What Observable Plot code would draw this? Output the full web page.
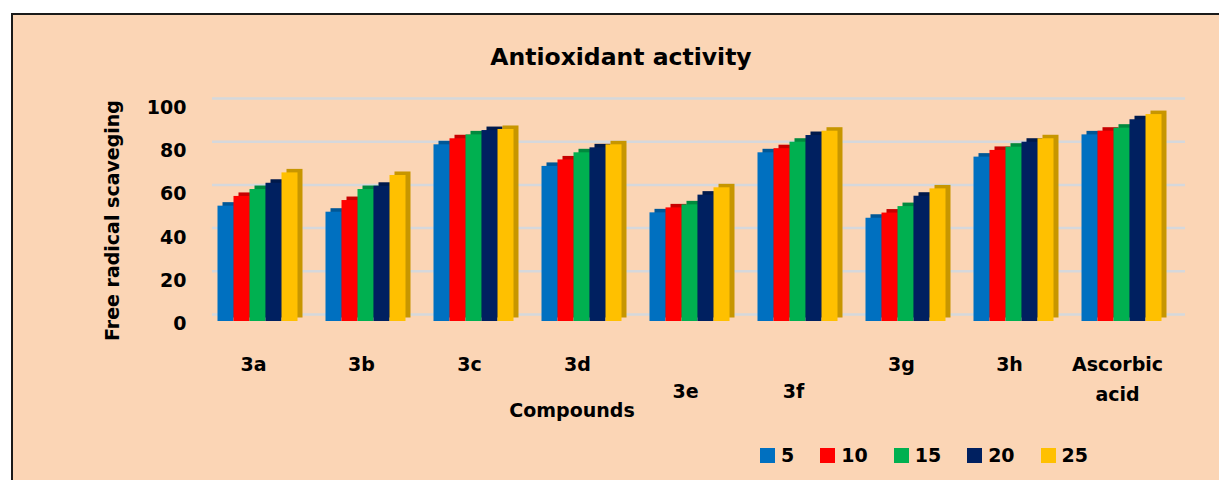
<!DOCTYPE html>
<html><head><meta charset="utf-8">
<script src="https://cdn.jsdelivr.net/npm/d3@7"></script>
<script src="https://cdn.jsdelivr.net/npm/@observablehq/plot@0.6"></script>
<style>
html,body{margin:0;padding:0;background:#fff;overflow:hidden;width:1219px;height:480px;}
#frame{position:absolute;left:11px;top:13px;width:1240px;height:500px;border:2px solid #1a1a1a;background:#FBD5B5;box-sizing:border-box;}
.layer{position:absolute;left:0;top:0;}
#legend{position:absolute;top:444px;left:760px;display:flex;align-items:center;font:bold 19px 'DejaVu Sans', sans-serif;color:#000;}
#legend .item{display:flex;align-items:center;margin-right:26px;}
#legend .sw{width:15px;height:15px;margin-right:6px;}
</style>
</head><body>
<div id="frame"></div>
<div id="bg" class="layer"></div>
<div id="fg" class="layer"></div>
<div id="legend"></div>
<script>
const title = "Antioxidant activity";
const yTitle = "Free radical scaveging";
const xTitle = "Compounds";
const compounds = ["3a","3b","3c","3d","3e","3f","3g","3h","Ascorbic acid"];
const xLabels = ["3a","3b","3c","3d","3e","3f","3g","3h","Ascorbic\nacid"];
const lowLabels = ["3e","3f"];
const seriesNames = ["5","10","15","20","25"];
const colors = ["#0070C0","#FF0000","#00B050","#002060","#FFC000"];
const yTicks = [0,20,40,60,80,100];
const s5  = [53.4, 50.6, 81.8, 71.8, 50.3, 78.1, 47.8, 76.1, 86.4];
const s10 = [57.9, 56.0, 84.6, 74.8, 52.6, 80.0, 50.2, 79.2, 88.1];
const s15 = [61.1, 61.1, 86.4, 78.1, 54.0, 83.0, 53.2, 80.7, 89.5];
const s20 = [64.0, 62.6, 88.4, 80.4, 58.5, 86.1, 58.0, 83.0, 93.4];
const s25 = [68.8, 67.6, 88.9, 81.8, 61.9, 88.1, 61.4, 84.6, 95.8];
const seriesValues = [s5, s10, s15, s20, s25];

const rows = [];
compounds.forEach((c, i) => seriesNames.forEach((s, j) => rows.push({compound: c, series: s, value: seriesValues[j][i]})));

const font = "'DejaVu Sans', sans-serif";
const bold = {fontWeight: "bold", fill: "#000", fontSize: 19, lineAnchor: "middle"};

const bg = Plot.plot({
  width: 1219, height: 480,
  marginTop: 98, marginBottom: 166, marginLeft: 212, marginRight: 34,
  style: {background: "transparent", fontFamily: font},
  y: {domain: [0, 100], axis: null},
  marks: [
    Plot.ruleY(yTicks, {stroke: "#D5D8DC", strokeWidth: 2.5}),
    Plot.text(yTicks, {y: d => d, text: d => String(d), frameAnchor: "left", textAnchor: "end", dx: -26, dy: 9.5, ...bold}),
    Plot.text([yTitle], {frameAnchor: "left", textAnchor: "middle", rotate: -90, dx: -100, dy: 14, ...bold}),
    Plot.text([xTitle], {frameAnchor: "bottom", textAnchor: "middle", dx: -127, dy: 96, ...bold}),
    Plot.text([title], {frameAnchor: "top", textAnchor: "middle", dx: -78, dy: -41, fontWeight: "bold", fill: "#000", fontSize: 23.5, lineAnchor: "middle"})
  ]
});
document.getElementById("bg").appendChild(bg);

const darkMarks = seriesNames.map((s, j) => Plot.barY(rows.filter(r => r.series === s), {
  fx: "compound", x: "series", y: "value", fill: d3.color(colors[j]).darker(0.7).formatHex(), dx: 5, dy: -3.5
}));

const fg = Plot.plot({
  width: 1219, height: 480,
  marginTop: 105, marginBottom: 159, marginLeft: 214.5, marginRight: 55.7,
  style: {background: "transparent", fontFamily: font},
  fx: {domain: compounds, paddingInner: 0.2229, paddingOuter: 0, axis: null},
  x: {domain: seriesNames, padding: 0, axis: null},
  y: {domain: [0, 100], axis: null},
  color: {domain: seriesNames, range: colors},
  marks: [
    ...darkMarks,
    Plot.barY(rows, {fx: "compound", x: "series", y: "value", fill: "series"}),
    Plot.text(compounds.filter(c => !lowLabels.includes(c)), {fx: d => d, text: d => xLabels[compounds.indexOf(d)], frameAnchor: "bottom", ...bold, lineAnchor: "top", lineHeight: 1.6, dy: 28, dx: -4}),
    Plot.text(compounds.filter(c => lowLabels.includes(c)), {fx: d => d, text: d => xLabels[compounds.indexOf(d)], frameAnchor: "bottom", ...bold, lineAnchor: "top", dy: 63, dx: -4})
  ]
});
document.getElementById("fg").appendChild(fg);

const legend = document.getElementById("legend");
seriesNames.forEach((s, j) => {
  const it = document.createElement("div"); it.className = "item";
  const sw = document.createElement("div"); sw.className = "sw"; sw.style.background = colors[j];
  const tx = document.createElement("span"); tx.textContent = s;
  it.appendChild(sw); it.appendChild(tx); legend.appendChild(it);
});
</script>
</body></html>
